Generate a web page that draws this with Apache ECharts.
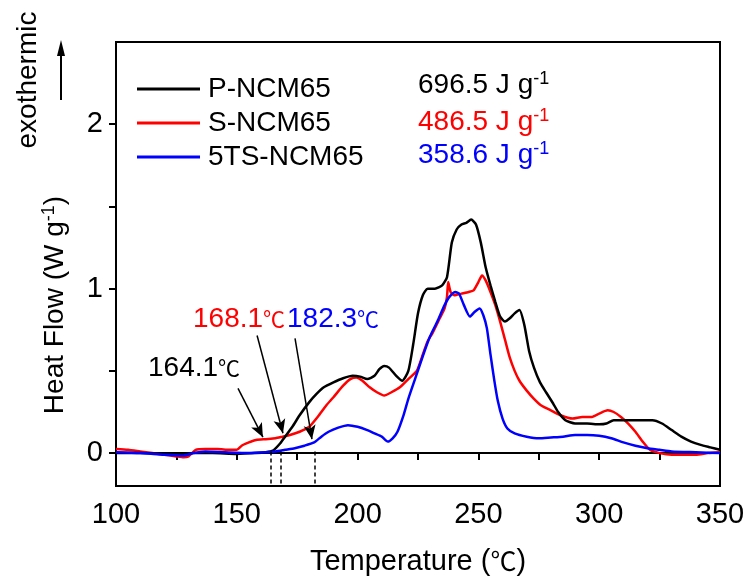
<!DOCTYPE html>
<html>
<head>
<meta charset="utf-8">
<script src="https://cdn.jsdelivr.net/npm/echarts@6/dist/echarts.min.js"></script>
<style>
  html, body { margin: 0; padding: 0; background: #fff; }
  #chart { width: 750px; height: 585px; }
</style>
</head>
<body>
<div id="chart"></div>
<script>
// 数据 (DSC curves)
const names = ['P-NCM65', 'S-NCM65', '5TS-NCM65']
const colors = ['#000000', '#ff0000', '#0000ff']
const energies = ['696.5', '486.5', '358.6']
const onsets = [164.1, 168.1, 182.3]

const pTemp = [100, 110, 120, 128, 132, 140, 150, 158, 162, 165, 168, 170, 173, 176, 180, 183, 186, 190, 194, 198, 201, 204, 207, 209, 211, 213, 216, 218.5, 221, 223, 225, 227, 229, 232, 235, 237, 239, 241, 243, 245, 247, 249, 251, 253, 255, 257, 259, 261, 263, 265, 267, 269, 271, 273, 275.5, 278, 281, 283, 286, 290, 295, 300, 303, 306, 310, 314, 318, 322, 326, 330, 334, 338, 342, 346, 350]
const pHeat = [0, 0, -0.005, -0.01, 0, 0, -0.005, 0, 0.005, 0.015, 0.06, 0.1, 0.16, 0.23, 0.31, 0.36, 0.4, 0.43, 0.455, 0.47, 0.465, 0.45, 0.47, 0.51, 0.53, 0.52, 0.47, 0.44, 0.5, 0.66, 0.85, 0.96, 1.0, 1.0, 1.02, 1.07, 1.28, 1.36, 1.39, 1.4, 1.42, 1.39, 1.28, 1.13, 1.02, 0.92, 0.83, 0.8, 0.82, 0.85, 0.87, 0.78, 0.62, 0.52, 0.43, 0.37, 0.3, 0.25, 0.2, 0.18, 0.18, 0.175, 0.18, 0.2, 0.2, 0.2, 0.2, 0.2, 0.18, 0.14, 0.1, 0.07, 0.05, 0.035, 0.02]

const sTemp = [100, 105, 110, 115, 120, 125, 128, 130, 133, 137, 142, 147, 150, 152, 155, 158, 162, 166, 169, 172, 176, 180, 184, 187, 190, 194, 197, 199.5, 202, 205, 208, 211, 214, 217.5, 221, 224.5, 227, 229, 231, 234, 236, 237, 237.5, 238.5, 240, 243, 246, 248, 250, 251.5, 253, 255, 257, 259, 261, 263, 265, 267, 270, 273, 276, 280, 284, 289, 293, 297, 300, 303.5, 306, 309, 312, 315, 318, 321, 325, 330, 335, 340, 345, 350]
const sHeat = [0.025, 0.02, 0.01, 0, -0.01, -0.02, -0.025, -0.02, 0.02, 0.025, 0.025, 0.02, 0.02, 0.045, 0.065, 0.08, 0.085, 0.09, 0.1, 0.11, 0.13, 0.16, 0.23, 0.29, 0.34, 0.41, 0.45, 0.46, 0.44, 0.4, 0.37, 0.35, 0.37, 0.4, 0.45, 0.5, 0.6, 0.68, 0.73, 0.82, 0.88, 0.95, 1.04, 0.98, 0.96, 0.97, 0.98, 0.99, 1.04, 1.08, 1.05, 0.98, 0.9, 0.8, 0.69, 0.58, 0.5, 0.44, 0.38, 0.33, 0.29, 0.26, 0.23, 0.21, 0.22, 0.22, 0.24, 0.26, 0.25, 0.22, 0.18, 0.13, 0.07, 0.02, 0, -0.01, -0.01, -0.01, 0, 0.005]

const tTemp = [100, 110, 120, 128, 132, 137, 145, 155, 162, 166, 170, 174, 178, 182, 185, 188, 192, 196, 200, 204, 207, 210, 212.5, 214.5, 216.5, 219, 221, 224, 227, 230, 233, 236, 238, 240.5, 242, 244, 246.5, 248.5, 250.5, 252, 253.5, 255, 256.5, 258, 260, 262, 265, 270, 275, 280, 285, 290, 295, 300, 305, 310, 315, 320, 325, 330, 340, 350]
const tHeat = [0.005, 0, -0.01, -0.015, 0, 0.01, 0.005, 0, 0.005, 0.01, 0.02, 0.03, 0.045, 0.065, 0.1, 0.13, 0.155, 0.17, 0.16, 0.14, 0.12, 0.1, 0.07, 0.09, 0.13, 0.23, 0.33, 0.46, 0.59, 0.71, 0.8, 0.9, 0.95, 0.98, 0.97, 0.9, 0.83, 0.86, 0.88, 0.84, 0.76, 0.6, 0.45, 0.32, 0.21, 0.15, 0.12, 0.1, 0.09, 0.095, 0.1, 0.11, 0.11, 0.105, 0.09, 0.065, 0.045, 0.03, 0.02, 0.01, 0.005, 0]

const xTicks = [100, 150, 200, 250, 300, 350]
const yTicks = [0, 1, 2]

const font = 'Liberation Sans, Arial, sans-serif'
const cjk = 'Noto Sans CJK SC'

function zip (xs, ys) {
  return xs.map((x, i) => [x, ys[i]])
}

let charts = echarts.init(document.getElementById('chart'))

let arrowLines = [
  [{ coord: [150.5, 0.394] }, { coord: [160.8, 0.097] }],
  [{ coord: [158.4, 0.715] }, { coord: [169.1, 0.121] }],
  [{ coord: [174.1, 0.697] }, { coord: [181.1, 0.085] }]
]
let dashLines = onsets.map(t => [{ coord: [t, 0.01] }, { coord: [t, -0.2] }])

let option = {
  animation: false,
  backgroundColor: '#fff',
  grid: {
    left: 116,
    right: 30,
    top: 42,
    bottom: 99,
    show: true,
    borderColor: '#000',
    borderWidth: 2
  },
  legend: {
    orient: 'vertical',
    left: 137,
    top: 75,
    padding: 0,
    icon: 'rect',
    itemWidth: 63,
    itemHeight: 3,
    itemGap: 6,
    textStyle: { fontSize: 28, fontFamily: font, color: '#000', lineHeight: 28, padding: [0, 0, 0, 3] },
    data: names
  },
  xAxis: {
    type: 'value',
    min: 100,
    max: 350,
    interval: 25,
    name: 'Temperature ({u|℃})',
    nameLocation: 'middle',
    nameGap: 61,
    nameTextStyle: {
      fontSize: 29,
      fontFamily: font,
      color: '#000',
      rich: { u: { fontSize: 26, fontFamily: cjk, color: '#000' } }
    },
    axisLine: { show: true, lineStyle: { color: '#000', width: 2 } },
    axisTick: { show: true, length: 7, lineStyle: { color: '#000', width: 2 } },
    axisLabel: {
      fontSize: 29,
      fontFamily: font,
      color: '#000',
      margin: 14,
      customValues: xTicks
    },
    splitLine: { show: false }
  },
  yAxis: {
    type: 'value',
    min: -0.2,
    max: 2.5,
    axisLine: { show: true, lineStyle: { color: '#000', width: 2 } },
    axisTick: { show: true, length: 7, lineStyle: { color: '#000', width: 2 }, customValues: [0, 0.5, 1, 1.5, 2] },
    axisLabel: {
      fontSize: 29,
      fontFamily: font,
      color: '#000',
      margin: 13,
      customValues: yTicks
    },
    splitLine: { show: false }
  },
  graphic: [
    {
      type: 'text',
      x: 28,
      y: 80,
      rotation: Math.PI / 2,
      style: { text: 'exothermic', fontSize: 28, fontFamily: font, fill: '#000', textAlign: 'center', textVerticalAlign: 'middle' }
    },
    { type: 'line', shape: { x1: 61, y1: 100, x2: 61, y2: 52 }, style: { stroke: '#000', lineWidth: 2 } },
    { type: 'polygon', shape: { points: [[57, 56], [65, 56], [61, 40]] }, style: { fill: '#000' } },
    {
      type: 'text',
      x: 55,
      y: 305,
      rotation: Math.PI / 2,
      style: {
        text: 'Heat Flow (W g{sup|-1})',
        fontSize: 28,
        fontFamily: font,
        fill: '#000',
        textAlign: 'center',
        textVerticalAlign: 'middle',
        lineHeight: 30,
        rich: { sup: { fontSize: 18, fontFamily: font, fill: '#000', verticalAlign: 'top' } }
      }
    }
  ].concat(energies.map((e, i) => ({
    type: 'text',
    x: 418,
    y: [85, 122, 155][i],
    style: {
      text: e + ' J g{sup|-1}',
      fontSize: 28,
      fontFamily: font,
      fill: colors[i],
      textAlign: 'left',
      textVerticalAlign: 'middle',
      lineHeight: 30,
      rich: { sup: { fontSize: 18, fontFamily: font, fill: colors[i], verticalAlign: 'top' } }
    }
  }))).concat(onsets.map((t, i) => ({
    type: 'text',
    x: [148, 193, 287][i],
    y: [368, 319, 319][i],
    style: {
      text: t.toFixed(1) + '{u|℃}',
      fontSize: 28,
      fontFamily: font,
      fill: colors[i],
      textAlign: 'left',
      textVerticalAlign: 'middle',
      rich: { u: { fontSize: 22, fontFamily: cjk, fill: colors[i] } }
    }
  }))),
  series: [
    {
      name: names[0],
      type: 'line',
      data: zip(pTemp, pHeat),
      symbol: 'none',
      smooth: 0.2,
      lineStyle: { color: colors[0], width: 2.5 },
      itemStyle: { color: colors[0] },
      z: 3,
      markLine: {
        silent: true,
        symbol: ['none', 'arrow'],
        symbolSize: [9, 14],
        label: { show: false },
        lineStyle: { color: '#000', width: 1.5, type: 'solid' },
        data: arrowLines
      }
    },
    {
      name: names[1],
      type: 'line',
      data: zip(sTemp, sHeat),
      symbol: 'none',
      smooth: 0.2,
      lineStyle: { color: colors[1], width: 2.5 },
      itemStyle: { color: colors[1] },
      z: 2,
      markLine: {
        silent: true,
        symbol: ['none', 'none'],
        label: { show: false },
        lineStyle: { color: '#000', width: 1.5, type: [4, 3] },
        data: dashLines
      }
    },
    {
      name: names[2],
      type: 'line',
      data: zip(tTemp, tHeat),
      symbol: 'none',
      smooth: 0.2,
      lineStyle: { color: colors[2], width: 2.5 },
      itemStyle: { color: colors[2] },
      z: 4
    }
  ]
}
charts.setOption(option)
window.addEventListener('resize', function () {
  charts.resize()
})
</script>
</body>
</html>
